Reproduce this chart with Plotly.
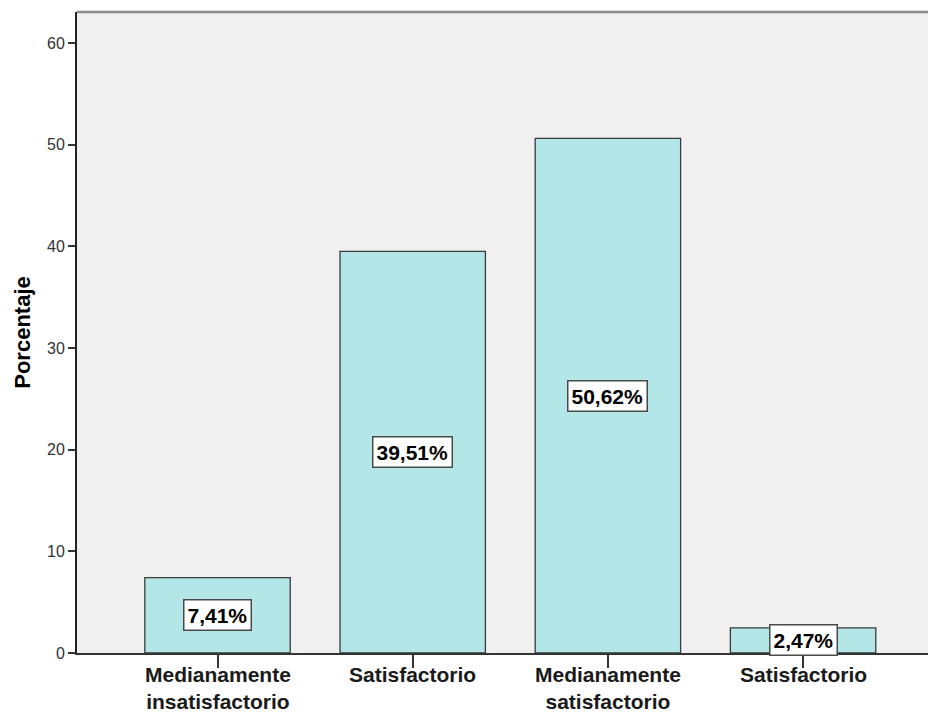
import plotly.graph_objects as go

categories = ["Medianamente<br>insatisfactorio", "Satisfactorio", "Medianamente<br>satisfactorio", "Satisfactorio"]
values = [7.41, 39.51, 50.62, 2.47]
labels = ["7,41%", "39,51%", "50,62%", "2,47%"]
y_ticks = [0, 10, 20, 30, 40, 50, 60]

xs = list(range(len(values)))
FONT = "Liberation Sans, Arial"

fig = go.Figure()
fig.add_trace(go.Bar(
    x=xs, y=values, width=0.745,
    marker=dict(color="#b3e6e6", line=dict(color="#3a3a3a", width=1.3)),
    hoverinfo="skip",
))

for x, v, t in zip(xs, values, labels):
    fig.add_annotation(
        x=x, y=max(v / 2, 1.3), text="<b>" + t + "</b>", showarrow=False,
        font=dict(family=FONT, size=21, color="#000000"),
        bgcolor="#ffffff", bordercolor="#4a4a4a", borderwidth=1.5, borderpad=3,
    )

# category labels below the axis
for x, c in zip(xs, categories):
    fig.add_annotation(
        x=x, y=0, yref="paper", text="<b>" + c.replace("<br>", "</b><br><b>") + "</b>",
        showarrow=False, yanchor="top", yshift=-8, align="center",
        font=dict(family=FONT, size=21, color="#1a1a1a"),
    )

fig.add_shape(type="line", xref="paper", yref="paper", x0=0, x1=1, y0=1, y1=1,
              line=dict(color="#8a8a8a", width=2.5))

fig.update_layout(
    width=928, height=716,
    margin=dict(l=77, r=0, t=12, b=63),
    paper_bgcolor="#ffffff", plot_bgcolor="#f0f0f0",
    showlegend=False,
    font=dict(family=FONT, color="#000000"),
    xaxis=dict(
        range=[-0.72, 3.64], tickmode="array", tickvals=xs,
        ticktext=["" for _ in xs],
        ticks="outside", ticklen=13, tickwidth=1.5, tickcolor="#333333",
        showline=True, linecolor="#333333", linewidth=1.5,
        showgrid=False, zeroline=False, fixedrange=True,
    ),
    yaxis=dict(
        range=[0, 63.05], tickmode="array", tickvals=y_ticks,
        tickfont=dict(size=16, color="#333333"),
        ticks="outside", ticklen=7, tickwidth=1.5, tickcolor="#333333",
        showline=True, linecolor="#222222", linewidth=2,
        showgrid=False, zeroline=False,
        title=dict(text="<b>Porcentaje</b>", font=dict(size=22, color="#000000"), standoff=10),
    ),
)

fig.write_html("out.html")
